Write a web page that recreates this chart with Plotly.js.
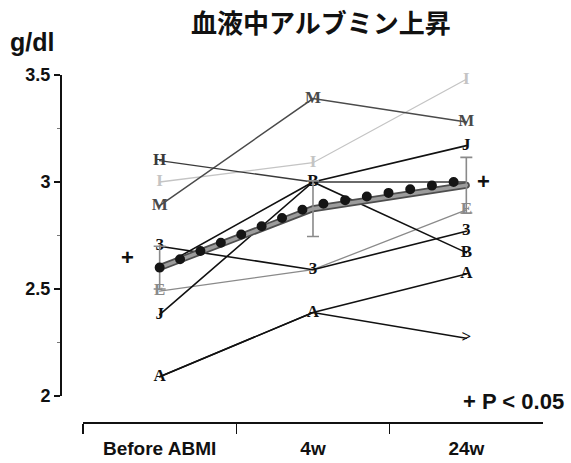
<!DOCTYPE html>
<html>
<head>
<meta charset="utf-8">
<script src="https://cdn.plot.ly/plotly-3.0.1.min.js"></script>
<style>
html,body{margin:0;padding:0;background:#fff;}
#chart{width:571px;height:463px;}
.js-line{stroke-linecap:round !important;}
</style>
</head>
<body>
<div id="chart"></div>
<script>
// ---- data ----
const categories = ['Before ABMI', '4w', '24w'];

const seriesH = [3.10, 3.00, 3.00];
const seriesI = [3.00, 3.09, 3.48];
const seriesM = [2.89, 3.39, 3.28];
const seriesJ = [2.38, 3.00, 3.17];
const series3 = [2.70, 2.59, 2.77];
const seriesE = [2.49, 2.59, 2.87];
const seriesB = [2.60, 3.00, 2.67];
const seriesA = [2.09, 2.39, 2.57];
const seriesZ = [2.09, 2.39, 2.27];

const labelsH = ['H', '', ''];
const labelsI = ['I', 'I', 'I'];
const labelsM = ['M', 'M', 'M'];
const labelsJ = ['J', '', 'J'];
const labels3 = ['3', '3', '3'];
const labelsE = ['E', '', 'E'];
const labelsB = ['', 'B', 'B'];
const labelsA = ['A', 'A', 'A'];
const labelsZ = ['', '', '>'];

const meanValues = [2.60, 2.875, 2.985];
const meanSD = [0.10, 0.13, 0.13];
const trendDots = [2.60, 2.89, 3.01];

const yTicks = [2, 2.5, 3, 3.5];
const yTickText = ['2', '2.5', '3', '3.5'];
const yMinorTicks = [2.25, 2.75, 3.25];

const titleText = '血液中アルブミン上昇';
const unitText = 'g/dl';
const pText = '+ P < 0.05';
const sigMark = '+';
const sigPoints = [{x: 'Before ABMI', y: 2.645, shift: -32}, {x: '24w', y: 3.0, shift: 17}];

// ---- drawing ----
const serif = 'Liberation Serif, Times New Roman, serif';
const sans = 'Liberation Sans, Arial, Helvetica, sans-serif';

function subject(y, labels, color, lw) {
  return {
    x: categories, y: y, text: labels,
    type: 'scatter', mode: 'lines+text',
    line: {color: color, width: lw || 1.5},
    textposition: 'middle center',
    textfont: {family: serif, size: 17, color: color, weight: 'bold'},
    cliponaxis: false, hoverinfo: 'skip', showlegend: false
  };
}

const traces = [
  subject(seriesI, labelsI, '#c4c4c4', 1.3),
  subject(seriesM, labelsM, '#4a4a4a', 1.5),
  subject(seriesH, labelsH, '#3a3a3a', 1.3),
  subject(seriesE, labelsE, '#8a8a8a', 1.3),
  subject(seriesJ, labelsJ, '#111111', 1.6),
  subject(series3, labels3, '#111111', 1.6),
  subject(seriesB, labelsB, '#111111', 1.6),
  subject(seriesA, labelsA, '#111111', 1.5),
  subject(seriesZ, labelsZ, '#111111', 1.5),
  {
    x: categories, y: meanValues, type: 'scatter', mode: 'lines',
    line: {color: '#4e4e4e', width: 7}, hoverinfo: 'skip', showlegend: false
  },
  {
    x: categories, y: meanValues, type: 'scatter', mode: 'lines',
    line: {color: '#9c9c9c', width: 3.5},
    error_y: {type: 'data', array: meanSD, visible: true, color: '#8a8a8a', thickness: 1.6, width: 6},
    hoverinfo: 'skip', showlegend: false
  },
  {
    x: categories, y: trendDots, type: 'scatter', mode: 'lines',
    line: {color: '#151515', width: 10, dash: '0px,22px'},
    hoverinfo: 'skip', showlegend: false
  }
];

const annotations = [
  {text: titleText, xref: 'paper', yref: 'paper', x: 0.540, y: 1.153, xanchor: 'center', yanchor: 'middle',
   showarrow: false, font: {family: 'Noto Sans CJK JP, sans-serif', size: 26, color: '#111', weight: 'bold'}},
  {text: unitText, xref: 'paper', yref: 'paper', x: -0.108, y: 1.095, xanchor: 'left', yanchor: 'middle',
   showarrow: false, font: {family: sans, size: 25, color: '#111', weight: 'bold'}},
  {text: pText, xref: 'paper', yref: 'paper', x: 1.048, y: 0.06, xanchor: 'right', yanchor: 'middle',
   showarrow: false, font: {family: sans, size: 22, color: '#111', weight: 'bold'}}
];
sigPoints.forEach(p => annotations.push({
  text: sigMark, x: p.x, y: p.y, xref: 'x', yref: 'y', xshift: p.shift, showarrow: false,
  xanchor: 'center', yanchor: 'middle', font: {family: sans, size: 22, color: '#111', weight: 'bold'}
}));

const layout = {
  width: 571, height: 463,
  margin: {l: 60, r: 28, t: 75, b: 41},
  paper_bgcolor: '#ffffff', plot_bgcolor: '#ffffff',
  showlegend: false,
  xaxis: {
    type: 'category', categoryorder: 'array', categoryarray: categories,
    range: [-0.5, 2.5], domain: [0.0476, 1], anchor: 'free', position: 0,
    showgrid: false, zeroline: false, showline: true, linecolor: '#111', linewidth: 1.5,
    ticks: 'outside', tickson: 'boundaries', ticklen: 10, tickwidth: 1.5, tickcolor: '#111',
    ticklabelstandoff: 9,
    tickfont: {family: sans, size: 19, color: '#111', weight: 'bold'}
  },
  yaxis: {
    range: [2, 3.5], domain: [0.075, 1], anchor: 'free', position: 0,
    showgrid: false, zeroline: false, showline: true, linecolor: '#111', linewidth: 1.5,
    tickmode: 'array', tickvals: yTicks, ticktext: yTickText,
    ticks: 'outside', ticklen: 6, tickwidth: 1.5, tickcolor: '#111',
    minor: {tickmode: 'array', tickvals: yMinorTicks, ticks: 'outside', ticklen: 3, tickcolor: '#777', tickwidth: 1},
    tickfont: {family: sans, size: 18, color: '#111', weight: 'bold'}
  },
  annotations: annotations
};

Plotly.newPlot('chart', traces, layout, {staticPlot: true, displayModeBar: false});
</script>
</body>
</html>
